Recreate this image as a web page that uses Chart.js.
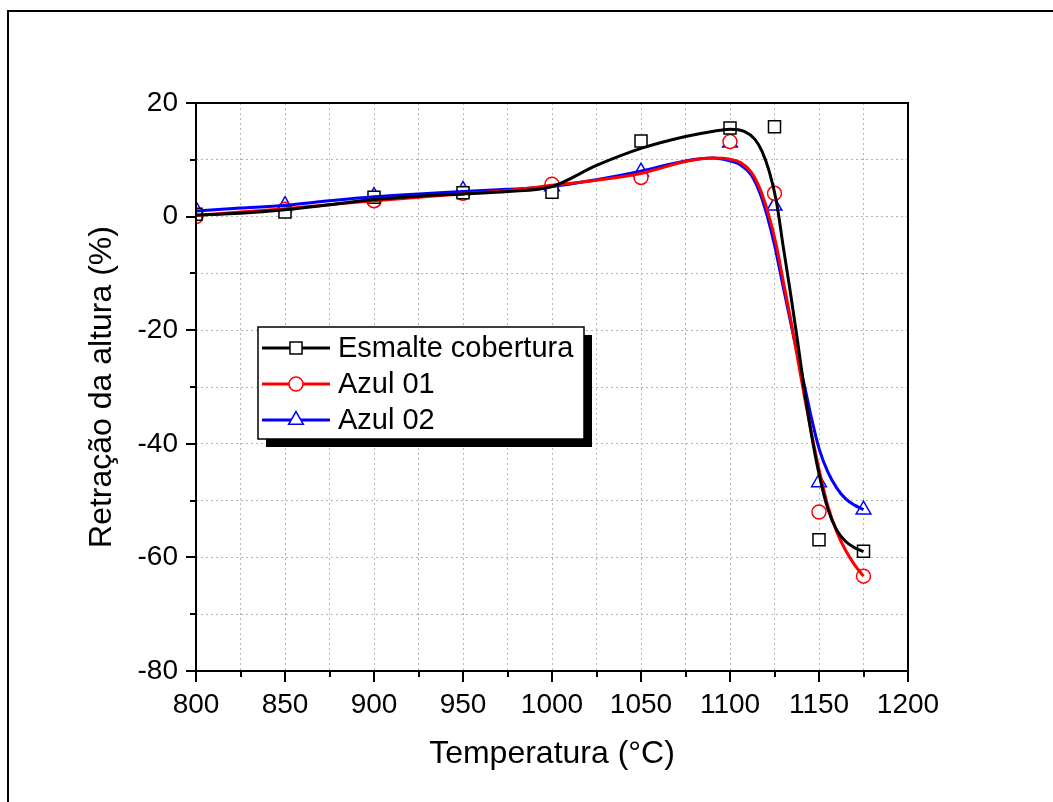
<!DOCTYPE html>
<html>
<head>
<meta charset="utf-8">
<script src="https://cdn.jsdelivr.net/npm/chart.js@4"></script>
<style>
  html, body { margin: 0; padding: 0; background: #fff; }
  #wrap { width: 1053px; height: 802px; position: relative; }
</style>
</head>
<body>
<div id="wrap"><canvas id="chart" width="1053" height="802"></canvas></div>
<script>
// medidas (marcadores)
const temps = [800, 850, 900, 950, 1000, 1050, 1100, 1125, 1150, 1175];
const esmalteVals = [0.4, 0.8, 3.4, 4.2, 4.3, 13.3, 15.6, 15.8, -56.9, -58.9];
const azul01Vals = [0.0, 1.3, 2.8, 4.1, 5.7, 6.9, 13.2, 4.1, -52.0, -63.3];
const azul02Vals = [1.2, 2.0, 3.6, 4.7, 5.3, 7.9, 13.0, 1.9, -46.8, -51.6];

// curvas de ajuste
const esmalteFitT = [800, 825, 850, 875, 900, 925, 950, 975, 1000, 1025, 1050, 1075, 1090, 1100, 1108, 1114, 1118, 1122, 1126, 1130, 1134, 1138, 1142, 1146, 1150, 1155, 1160, 1165, 1170, 1175];
const esmalteFit = [0.3, 0.6, 1.2, 2.1, 3.0, 3.6, 4.0, 4.4, 5.3, 9.0, 12.0, 14.1, 15.0, 15.4, 15.0, 13.6, 11.5, 8.0, 2.8, -5.5, -13.5, -22.0, -31.0, -38.8, -45.3, -51.5, -55.2, -57.2, -58.3, -59.0];

const azul01FitT = [800, 825, 850, 875, 900, 925, 950, 975, 1000, 1025, 1050, 1075, 1090, 1100, 1106, 1112, 1117, 1122, 1126, 1130, 1134, 1138, 1142, 1146, 1150, 1155, 1160, 1165, 1170, 1175];
const azul01Fit = [0.2, 0.8, 1.4, 2.1, 2.8, 3.4, 4.0, 4.6, 5.5, 6.4, 7.6, 9.7, 10.3, 10.1, 9.5, 7.8, 4.8, 0.0, -5.0, -11.5, -18.0, -25.0, -32.0, -38.5, -44.5, -51.0, -55.5, -58.8, -61.3, -63.3];

const azul02FitT = [800, 825, 850, 875, 900, 925, 950, 975, 1000, 1025, 1050, 1075, 1090, 1100, 1106, 1112, 1117, 1121, 1125, 1129, 1133, 1137, 1142, 1146, 1150, 1155, 1160, 1165, 1170, 1175];
const azul02Fit = [1.0, 1.5, 2.0, 2.8, 3.5, 4.0, 4.4, 4.8, 5.3, 6.5, 8.0, 9.8, 10.3, 9.8, 9.1, 7.3, 4.0, 0.0, -5.0, -11.0, -17.0, -23.0, -30.0, -35.8, -40.8, -45.0, -47.8, -49.7, -50.8, -51.6];

const legendLabels = ['Esmalte cobertura', 'Azul 01', 'Azul 02'];
const xTicks = [800, 850, 900, 950, 1000, 1050, 1100, 1150, 1200];
const yTicks = [-80, -60, -40, -20, 0, 20];

const FONT = "'Liberation Sans', Arial, sans-serif";

function pts(xs, ys) {
    return xs.map((x, i) => ({ x: x, y: ys[i] }));
}

// moldura externa, caixa dos eixos, ticks menores e legenda
const decorPlugin = {
    id: 'decor',
    beforeDraw(chart) {
        const ctx = chart.ctx;
        ctx.save();
        ctx.fillStyle = '#fff';
        ctx.fillRect(0, 0, chart.width, chart.height);
        ctx.strokeStyle = '#000';
        ctx.lineWidth = 2;
        ctx.strokeRect(8, 11, 1200, 1000);
        ctx.restore();
    },
    afterDraw(chart) {
        const ctx = chart.ctx;
        const a = chart.chartArea;
        const xs = chart.scales.x, ys = chart.scales.y;
        ctx.save();
        ctx.strokeStyle = '#000';
        ctx.lineWidth = 2;
        ctx.strokeRect(a.left, a.top, a.right - a.left, a.bottom - a.top);

        // ticks do eixo x
        for (let v = 800; v <= 1200; v += 25) {
            const px = Math.round(xs.getPixelForValue(v));
            const len = (v % 50 === 0) ? 11 : 6;
            ctx.beginPath();
            ctx.moveTo(px, a.bottom);
            ctx.lineTo(px, a.bottom + len);
            ctx.stroke();
        }
        // ticks do eixo y
        for (let v = -80; v <= 20; v += 10) {
            const py = Math.round(ys.getPixelForValue(v));
            const len = (v % 20 === 0) ? 10 : 6;
            ctx.beginPath();
            ctx.moveTo(a.left, py);
            ctx.lineTo(a.left - len, py);
            ctx.stroke();
        }

        // legenda com sombra
        const lx = 258, ly = 327, lw = 326, lh = 112;
        ctx.fillStyle = '#000';
        ctx.fillRect(lx + 8, ly + 8, lw, lh);
        ctx.fillStyle = '#fff';
        ctx.fillRect(lx, ly, lw, lh);
        ctx.lineWidth = 1.5;
        ctx.strokeRect(lx, ly, lw, lh);

        const rows = [348, 384, 420];
        const lineDs = [chart.data.datasets[3], chart.data.datasets[4], chart.data.datasets[5]];
        const markDs = [chart.data.datasets[0], chart.data.datasets[1], chart.data.datasets[2]];
        ctx.font = '29px ' + FONT;
        ctx.textBaseline = 'middle';
        ctx.textAlign = 'left';
        rows.forEach((ry, i) => {
            ctx.strokeStyle = lineDs[i].borderColor;
            ctx.lineWidth = 3;
            ctx.beginPath();
            ctx.moveTo(262, ry);
            ctx.lineTo(330, ry);
            ctx.stroke();
            ctx.fillStyle = '#fff';
            ctx.strokeStyle = markDs[i].borderColor;
            ctx.lineWidth = 1.5;
            Chart.helpers.drawPoint(ctx, {
                pointStyle: markDs[i].pointStyle,
                radius: markDs[i].pointRadius,
                borderWidth: 1.5,
                rotation: 0
            }, 296, ry);
            ctx.fillStyle = '#000';
            ctx.fillText(legendLabels[i], 338, ry + 1);
        });
        ctx.restore();
    }
};

new Chart(document.getElementById('chart'), {
    type: 'scatter',
    data: {
        datasets: [
            {
                label: legendLabels[0], data: pts(temps, esmalteVals),
                pointStyle: 'rect', pointRadius: 8.5, borderColor: '#000',
                backgroundColor: '#fff', pointBorderWidth: 1.5, showLine: false, order: 2
            },
            {
                label: legendLabels[1], data: pts(temps, azul01Vals),
                pointStyle: 'circle', pointRadius: 7, borderColor: '#ff0000',
                backgroundColor: '#fff', pointBorderWidth: 1.5, showLine: false, order: 2
            },
            {
                label: legendLabels[2], data: pts(temps, azul02Vals),
                pointStyle: 'triangle', pointRadius: 8.5, borderColor: '#0000ff',
                backgroundColor: '#fff', pointBorderWidth: 1.5, showLine: false, order: 2
            },
            {
                label: 'fit0', data: pts(esmalteFitT, esmalteFit), showLine: true,
                borderColor: '#000', borderWidth: 3, pointRadius: 0,
                cubicInterpolationMode: 'monotone', order: 1
            },
            {
                label: 'fit1', data: pts(azul01FitT, azul01Fit), showLine: true,
                borderColor: '#ff0000', borderWidth: 3, pointRadius: 0,
                cubicInterpolationMode: 'monotone', order: 1
            },
            {
                label: 'fit2', data: pts(azul02FitT, azul02Fit), showLine: true,
                borderColor: '#0000ff', borderWidth: 3, pointRadius: 0,
                cubicInterpolationMode: 'monotone', order: 1
            }
        ]
    },
    options: {
        responsive: false,
        animation: false,
        events: [],
        layout: { padding: { left: 0, top: 103, right: 145, bottom: 0 } },
        plugins: { legend: { display: false }, tooltip: { enabled: false } },
        scales: {
            x: {
                type: 'linear', min: 800, max: 1200,
                afterFit: (s) => { s.height = 131; },
                afterBuildTicks: (s) => { s.ticks = []; for (let v = 800; v <= 1200; v += 25) s.ticks.push({ value: v }); },
                border: { display: false, dash: [2, 3] },
                grid: { color: '#b4b4b4', lineWidth: 1, drawTicks: false },
                ticks: {
                    padding: 17, color: '#000', maxRotation: 0, autoSkip: false,
                    font: { family: FONT, size: 28 },
                    callback: (v) => xTicks.includes(v) ? String(v) : ''
                },
                title: {
                    display: true, text: 'Temperatura (°C)', color: '#000',
                    font: { family: FONT, size: 32 }, padding: { top: 0, bottom: 29 }
                }
            },
            y: {
                type: 'linear', min: -80, max: 20,
                afterFit: (s) => { s.width = 196; },
                afterBuildTicks: (s) => { s.ticks = []; for (let v = -80; v <= 20; v += 10) s.ticks.push({ value: v }); },
                border: { display: false, dash: [2, 3] },
                grid: { color: '#b4b4b4', lineWidth: 1, drawTicks: false },
                ticks: {
                    padding: 18, color: '#000', autoSkip: false,
                    font: { family: FONT, size: 28 },
                    callback: (v) => yTicks.includes(v) ? String(v) : ''
                },
                title: {
                    display: true, text: 'Retração da altura (%)', color: '#000',
                    font: { family: FONT, size: 32 }, padding: { top: 83, bottom: 0 }
                }
            }
        }
    },
    plugins: [decorPlugin]
});
</script>
</body>
</html>
